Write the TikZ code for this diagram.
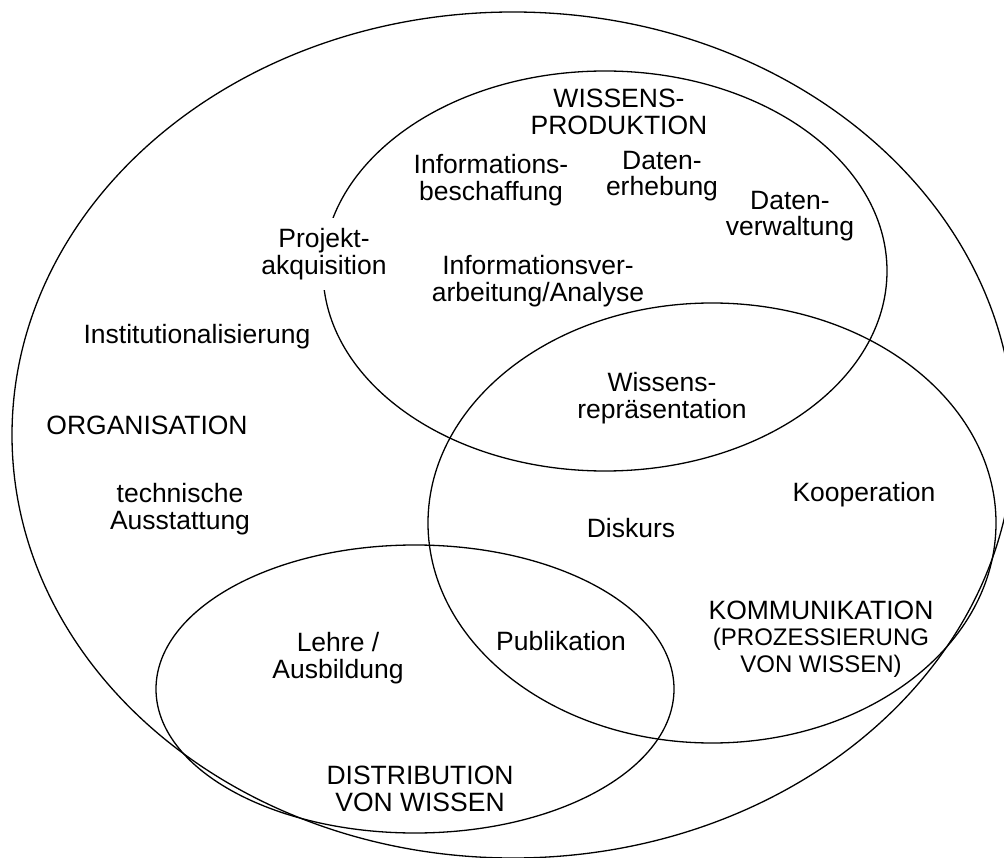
\documentclass[tikz,border=0pt]{standalone}
\usepackage{fontspec}
\setmainfont{Liberation Sans}
\begin{document}
\begin{tikzpicture}[x=1pt,y=-1pt,
  lab/.style={align=center, font=\fontsize{26.5}{26.5}\selectfont, inner sep=1pt},
  smalllab/.style={align=center, font=\fontsize{24}{26.5}\selectfont, inner sep=1pt},
  ring/.style={draw=black, line width=1.3pt}]
\useasboundingbox (0,0) rectangle (1004,858);
% sets
\draw[ring] (513,435) ellipse [x radius=501, y radius=423];
\draw[ring] (605,271) ellipse [x radius=282, y radius=200];
\draw[ring] (712,523) ellipse [x radius=284, y radius=220];
\draw[ring] (415,689) ellipse [x radius=259, y radius=144];
% labels
\node[lab] (wp) at (619,112) {WISSENS-\\PRODUKTION};
\node[lab] (ib) at (491,180) {Informations-\\beschaffung};
\node[lab] (de) at (662,176) {Daten-\\erhebung};
\node[lab] (dv) at (790,216) {Daten-\\verwaltung};
\node[lab, fill=white, inner xsep=2pt, inner ysep=10pt] (pa) at (324,254) {Projekt-\\akquisition};
\node[lab] (iv) at (538,281) {Informationsver-\\arbeitung/Analyse};
\node[lab] (inst) at (197,337) {Institutionalisierung};
\node[lab] (wr) at (662,398) {Wissens-\\repräsentation};
\node[lab] (org) at (147,425) {ORGANISATION};
\node[lab] (tech) at (180,509) {technische\\Ausstattung};
\node[lab] (disk) at (631,528) {Diskurs};
\node[lab] (koop) at (864,495) {Kooperation};
\node[lab] (lehre) at (338,658) {Lehre /\\Ausbildung};
\node[lab] (pub) at (561,641) {Publikation};
\node[lab] (komm) at (821,610) {KOMMUNIKATION};
\node[smalllab] (proz) at (821,653) {(PROZESSIERUNG\\VON WISSEN)};
\node[lab] (dist) at (420,789) {DISTRIBUTION\\VON WISSEN};
\end{tikzpicture}
\end{document}
